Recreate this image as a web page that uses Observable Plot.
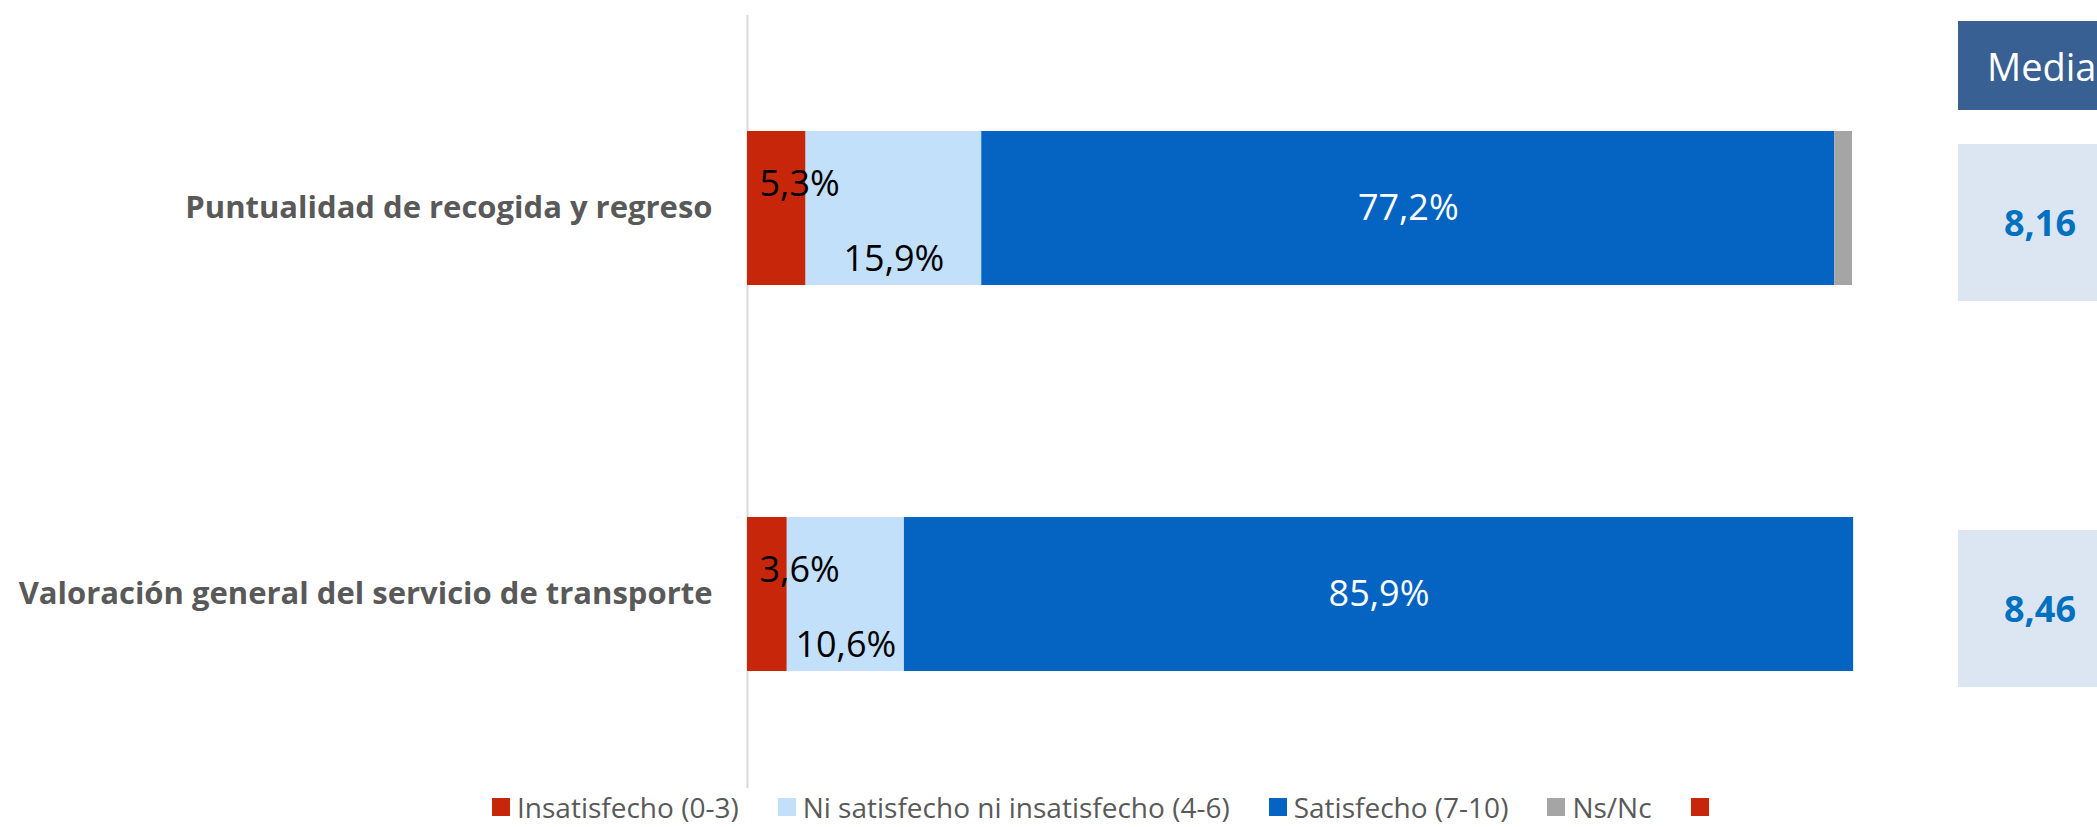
<!DOCTYPE html>
<html>
<head>
<meta charset="utf-8">
<script src="https://cdn.jsdelivr.net/npm/d3@7"></script>
<script src="https://cdn.jsdelivr.net/npm/@observablehq/plot@0.6"></script>
<style>
  html, body { margin: 0; padding: 0; background: #fff; overflow: hidden; }
  #wrap { position: relative; width: 2097px; height: 827px; font-family: "Open Sans", sans-serif; overflow: hidden; }
  #wrap svg { position: absolute; left: 0; top: 0; }
  #legend { position: absolute; left: 492px; top: 792px; height: 30px; line-height: 30px; display: flex; align-items: center; font-size: 28px; color: #595959; white-space: nowrap; }
  #legend .item { display: flex; align-items: center; margin-right: 39px; }
  #legend .sw { width: 18px; height: 18px; margin-right: 7px; display: inline-block; }
  .mbox { position: absolute; left: 1958px; width: 160px; box-sizing: border-box; display: flex; align-items: center; }
  .mhead { background: #386092; color: #fff; font-size: 38px; padding-left: 29px; }
  .mval { background: #DCE6F2; color: #0070C0; font-size: 36px; font-weight: 700; padding-left: 46px; }
</style>
</head>
<body>
<div id="wrap"></div>
<script>
// ---- data ----
const categories = ["Puntualidad de recogida y regreso", "Valoración general del servicio de transporte"];
const segments = ["Insatisfecho (0-3)", "Ni satisfecho ni insatisfecho (4-6)", "Satisfecho (7-10)", "Ns/Nc"];
const insatisfecho = [5.3, 3.6];
const niSatisfecho = [15.9, 10.6];
const satisfecho = [77.2, 85.9];
const nsnc = [1.6, 0.0];
const medias = [8.16, 8.46];
const mediaTitle = "Media";
const colors = ["#C8260A", "#C3E0FB", "#0563C1", "#A5A5A5"];
const legendLabels = [...segments, ""];
const legendColors = [...colors, "#C8260A"];

// ---- build ----
const series = [insatisfecho, niSatisfecho, satisfecho, nsnc];
const rows = categories.flatMap((c, i) => segments.map((s, j) => ({category: c, segment: s, value: series[j][i]})));
const pct = v => d3.format(".1f")(v).replace(".", ",") + "%";
const num = v => d3.format(".2f")(v).replace(".", ",");

const chart = Plot.plot({
  width: 2097,
  height: 790,
  marginLeft: 747,
  marginRight: 245,
  marginTop: 15,
  marginBottom: 2,
  style: {fontFamily: "Open Sans", background: "transparent", overflow: "visible"},
  x: {domain: [0, 100], axis: null},
  y: {domain: categories, paddingInner: 0.6, paddingOuter: 0.3, axis: null, label: null},
  color: {domain: segments, range: colors},
  marks: [
    Plot.ruleX([0], {stroke: "#D9D9D9", strokeWidth: 2}),
    Plot.barX(rows, {x: "value", y: "category", fill: "segment", z: "segment", order: segments}),
    Plot.axisY({tickSize: 0, tickPadding: 35, fontSize: 31, fontWeight: "bold", fill: "#595959", label: null}),
    Plot.text(rows, Plot.stackX1({
      x: "value", y: "category", z: "segment", order: segments,
      text: d => d.segment === segments[0] ? pct(d.value) : "",
      textAnchor: "start", dx: 12, dy: -24, fontSize: 36, fill: "#000"
    })),
    Plot.text(rows, Plot.stackX({
      x: "value", y: "category", z: "segment", order: segments,
      text: d => d.segment === segments[1] ? pct(d.value) : "",
      dy: 51, fontSize: 36, fill: "#000"
    })),
    Plot.text(rows, Plot.stackX({
      x: "value", y: "category", z: "segment", order: segments,
      text: d => d.segment === segments[2] ? pct(d.value) : "",
      fontSize: 36, fill: "#fff"
    }))
  ]
});

const wrap = document.getElementById("wrap");
wrap.appendChild(chart);

// Media column, aligned with the y scale
const ys = chart.scale("y");
const head = document.createElement("div");
head.className = "mbox mhead";
head.style.top = "21px";
head.style.height = "89px";
head.textContent = mediaTitle;
wrap.appendChild(head);
categories.forEach((c, i) => {
  const center = ys.apply(c) + ys.bandwidth / 2 + 14;
  const b = document.createElement("div");
  b.className = "mbox mval";
  b.style.top = (center - 78) + "px";
  b.style.height = "157px";
  b.textContent = num(medias[i]);
  wrap.appendChild(b);
});

// Legend
const lg = document.createElement("div");
lg.id = "legend";
legendLabels.forEach((l, i) => {
  const it = document.createElement("div");
  it.className = "item";
  const sw = document.createElement("span");
  sw.className = "sw";
  sw.style.background = legendColors[i];
  it.appendChild(sw);
  if (l) { const t = document.createElement("span"); t.textContent = l; it.appendChild(t); }
  lg.appendChild(it);
});
wrap.appendChild(lg);
</script>
</body>
</html>
